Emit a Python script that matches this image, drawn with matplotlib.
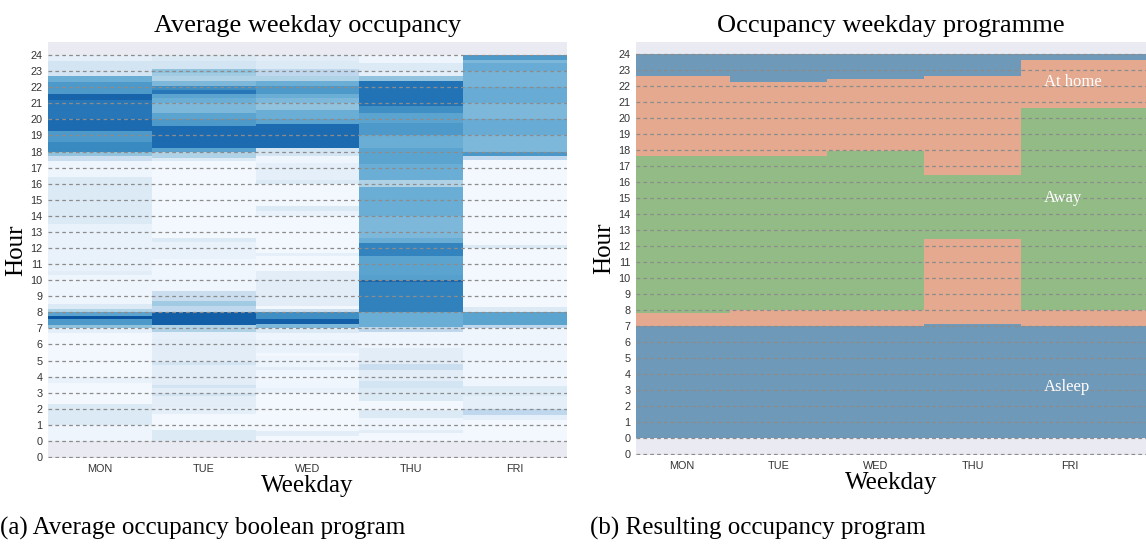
import numpy as np
import matplotlib.pyplot as plt

days = ["MON", "TUE", "WED", "THU", "FRI"]

# average occupancy per day: band edges (hours, top-down) and shade of each band
mon_bounds = [24, 23.65, 22.7, 22.35, 21.6, 21.2, 20.0, 19.3, 18.6, 18.0, 17.7, 17.4, 16.4, 13.5,
              10.6, 10.3, 8.5, 8.2, 8.0, 7.75, 7.6, 7.2, 7.0, 6.7, 4.0, 3.6, 2.3, 1.0, 0]
mon_vals = [0.1, 0.2, 0.55, 0.65, 0.88, 0.8, 0.85, 0.65, 0.72, 0.45, 0.25, 0.05, 0.15, 0.08,
            0.12, 0.05, 0.15, 0.35, 0.6, 0.95, 0.65, 0.45, 0.1, 0.03, 0.08, 0.03, 0.15, 0.05]

tue_bounds = [24, 23.65, 23.1, 22.9, 22.7, 22.4, 22.1, 21.8, 21.6, 21.3, 21.0, 20.4, 20.0, 19.6,
              18.2, 18.0, 17.6, 17.4, 12.6, 12.4, 11.3, 10.6, 9.3, 8.7, 8.4, 8.0, 7.2, 6.75, 6.35,
              4.9, 4.7, 3.5, 3.3, 3.0, 2.8, 2.1, 1.7, 0.7, 0]
tue_vals = [0.15, 0.2, 0.45, 0.4, 0.35, 0.5, 0.7, 0.8, 0.6, 0.55, 0.5, 0.6, 0.65, 0.85,
            0.6, 0.35, 0.15, 0.03, 0.15, 0.08, 0.04, 0.04, 0.25, 0.4, 0.3, 0.9, 0.35, 0.1,
            0.12, 0.2, 0.12, 0.2, 0.12, 0.2, 0.12, 0.1, 0.03, 0.15]

wed_bounds = [24, 23.6, 23.1, 22.7, 22.4, 22.1, 21.6, 21.3, 21.0, 20.6, 20.0, 19.7, 18.2, 17.7,
              17.3, 16.2, 16.0, 14.6, 14.3, 14.0, 11.7, 11.5, 10.6, 8.4, 8.2, 8.0, 7.6, 7.3, 7.0,
              6.7, 6.3, 5.5, 5.3, 4.6, 4.4, 3.3, 3.0, 0.6, 0.3, 0]
wed_vals = [0.12, 0.15, 0.3, 0.35, 0.55, 0.65, 0.55, 0.5, 0.45, 0.55, 0.6, 0.85, 0.2,
            0.05, 0.1, 0.15, 0.03, 0.15, 0.08, 0.03, 0.1, 0.03, 0.12, 0.03, 0.25, 0.7, 0.9,
            0.5, 0.15, 0.05, 0.08, 0.03, 0.06, 0.12, 0.04, 0.08, 0.03, 0.12, 0.03]

thu_bounds = [24, 23.5, 23.0, 22.7, 22.4, 20.8, 20.4, 19.8, 19.0, 18.2, 17.2, 16.2, 15.8, 14.0,
              12.6, 12.3, 11.5, 10.3, 10.0, 9.9, 8.0, 7.1, 6.8, 5.8, 4.8, 4.4, 3.7, 3.3, 2.5,
              1.9, 1.4, 0.7, 0.5, 0]
thu_vals = [0.05, 0.15, 0.1, 0.45, 0.82, 0.7, 0.6, 0.65, 0.55, 0.6, 0.55, 0.35, 0.55, 0.5,
            0.55, 0.75, 0.6, 0.62, 0.88, 0.76, 0.55, 0.3, 0.05, 0.12, 0.25, 0.12, 0.2, 0.15,
            0.03, 0.15, 0.05, 0.12, 0.03]

fri_bounds = [24, 23.7, 23.5, 23.0, 22.0, 21.0, 20.0, 19.0, 18.0, 17.7, 17.5, 12.2, 12.0, 8.3,
              8.0, 7.2, 7.0, 3.4, 2.8, 2.0, 1.6, 1.3, 0]
fri_vals = [0.65, 0.5, 0.56, 0.52, 0.56, 0.5, 0.56, 0.5, 0.66, 0.3, 0.03, 0.15, 0.03, 0.15,
            0.6, 0.3, 0.05, 0.15, 0.1, 0.3, 0.1, 0.03]

# resulting programme: state change hours per day
asleep_end = [7.0, 7.0, 7.0, 7.15, 7.0]
away_start = [7.85, 8.0, 8.0, 12.47, 8.0]
away_end = [17.62, 17.62, 17.96, 16.48, 20.66]
home_end = [22.64, 22.29, 22.46, 22.64, 23.62]

hour_labels = ["0"] + [str(h) for h in range(25)]

bg = "#EAEAF2"
serif = "Liberation Serif"
sans = "Liberation Sans"

fig = plt.figure(figsize=(11.46, 5.44), dpi=100)
ax1 = fig.add_axes([48 / 1146, 1 - 458 / 544, (567 - 48) / 1146, 416 / 544])
ax2 = fig.add_axes([636 / 1146, 1 - 455 / 544, (1146 - 636) / 1146, 413 / 544])


def style(ax):
    ax.set_facecolor(bg)
    for s in ax.spines.values():
        s.set_visible(False)
    ax.set_yticks(np.arange(-1, 25))
    ax.set_yticklabels(hour_labels, fontfamily=sans, fontsize=7.8, color="#333333")
    ax.set_xticks(np.arange(5) + 0.5)
    ax.set_xticklabels(days, fontfamily=sans, fontsize=7.8, color="#333333")
    ax.tick_params(length=0, pad=4)
    ax.set_axisbelow(False)
    ax.grid(axis="y", linestyle="--", color="#8c8c8c", linewidth=0.9, dashes=(3, 2.5))
    ax.grid(axis="x", visible=False)
    ax.set_xlabel("Weekday", fontfamily=serif, fontsize=18, labelpad=1)
    ax.set_ylabel("Hour", fontfamily=serif, fontsize=18, labelpad=2)


# left: heatmap of the average boolean occupancy
day_data = [(mon_bounds, mon_vals), (tue_bounds, tue_vals), (wed_bounds, wed_vals),
            (thu_bounds, thu_vals), (fri_bounds, fri_vals)]
for i, (b, v) in enumerate(day_data):
    ax1.pcolormesh([i, i + 1], b, np.array(v)[:, None], cmap="Blues", vmin=0, vmax=1.1,
                   shading="flat")
ax1.set_xlim(0, 5)
ax1.set_ylim(-1.06, 24.81)
style(ax1)
ax1.set_title("Average weekday occupancy", fontfamily=serif, fontsize=19, pad=7)

# right: stacked programme
x = np.array([0, 1, 2, 3, 4, 5.3])


def ext(a):
    return np.append(a, a[-1])


c_asleep = "#6F99B8"
c_home = "#E4A98F"
c_away = "#93BB86"
ax2.fill_between(x, 0, ext(asleep_end), step="post", color=c_asleep, lw=0)
ax2.fill_between(x, ext(asleep_end), ext(away_start), step="post", color=c_home, lw=0)
ax2.fill_between(x, ext(away_start), ext(away_end), step="post", color=c_away, lw=0)
ax2.fill_between(x, ext(away_end), ext(home_end), step="post", color=c_home, lw=0)
ax2.fill_between(x, ext(home_end), 24, step="post", color=c_asleep, lw=0)
ax2.set_xlim(0.03, 5.29)
ax2.set_ylim(-1.04, 24.77)
style(ax2)
ax2.set_title("Occupancy weekday programme", fontfamily=serif, fontsize=19, pad=7)

ax2.text(4.24, 22.27, "At home", color="white", fontfamily=serif, fontsize=12, va="center")
ax2.text(4.24, 15.0, "Away", color="white", fontfamily=serif, fontsize=12, va="center")
ax2.text(4.24, 3.2, "Asleep", color="white", fontfamily=serif, fontsize=12, va="center")

fig.text(0.0, 0.018, "(a) Average occupancy boolean program", fontfamily=serif, fontsize=18)
fig.text(590 / 1146, 0.018, "(b) Resulting occupancy program", fontfamily=serif, fontsize=18)

fig.savefig("out.png", dpi=100)
